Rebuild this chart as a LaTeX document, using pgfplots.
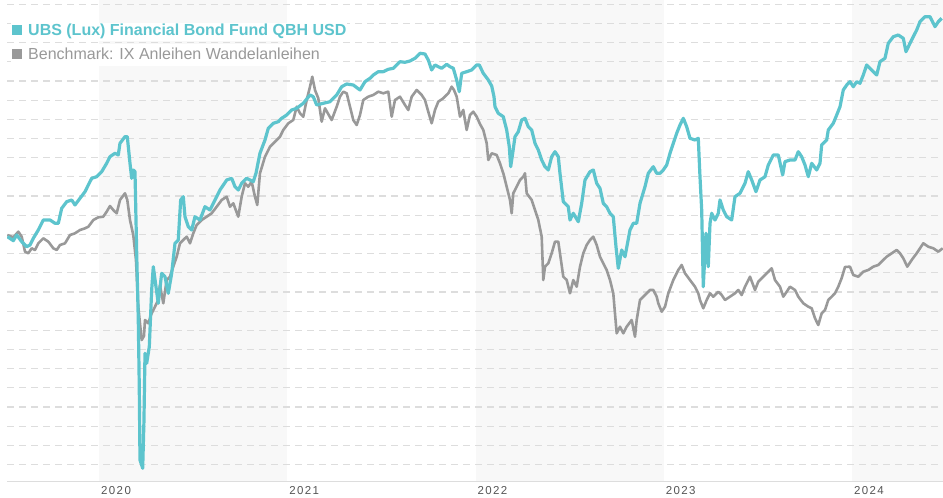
\documentclass[border=0pt]{standalone}
\usepackage{fontspec}
\setmainfont{Liberation Sans}
\newfontfamily\tickfont[LetterSpace=12]{Liberation Sans}
\usepackage{pgfplots}
\usepackage{pgfplotstable}
\pgfplotsset{compat=1.18}
\definecolor{fundcol}{HTML}{5DC4CD}
\definecolor{benchcol}{HTML}{999999}
\definecolor{gridcol}{HTML}{DDDDDD}
\definecolor{bandcol}{HTML}{F8F8F8}
\definecolor{tickcol}{HTML}{555555}

% px = horizontal reading, py = vertical reading (from top); converted to date / index below
\pgfplotstableread{
px py
7.3 236.7
13.3 240.7
16.7 235
21.7 241.7
26.7 246.7
30 245
33.3 238.3
38.3 230
43.3 220
50 220
55 223.3
58.3 223.3
61.7 208.3
66.7 201.7
71.7 200
75 205
80 198.3
85 191.7
88.3 185
91.7 178.3
96.7 176.7
101.7 171.7
106.7 163.3
110 156.7
115 153.3
118.3 155
120 143.3
125 136.7
127.3 136.7
130 163.3
131.7 178.3
133.3 170
135 171.7
136.7 253.3
138.3 320
139.3 386.7
140 460
142.7 468.3
144 420
145 353.3
146.7 363.3
149.3 346.7
151.7 290
153.3 266.7
156 286.7
158.3 303.3
161.7 273.3
165 276.7
168.3 293.3
171.7 273.3
175 243.3
178.3 240
180.7 200
183.3 196.7
185 216.7
188.3 226.7
191.7 230
195 216.7
200 220
205 206.7
210 210
215 200
220 190
226.7 180
231.7 178.3
235 186.7
238.3 190
241.7 183.3
246.7 178.3
250 180
253.3 181.7
256 173.3
260 153.3
265 140
268.3 128.3
273.3 123.3
278.3 121.7
281.7 118.3
286.7 115
291.7 110
296.7 108.3
303.3 103.3
310 95
313.3 96.7
316.7 105
323.3 103.3
330 101.7
336.7 95
341.7 86.7
346.7 84
353.3 85
360 90
365 81.7
370 78.3
373.3 75
378.3 71.7
383.3 71.7
388.3 69.3
393.3 68.3
400 61.7
405 62.3
410 61
415 58.3
420 53.3
425 54
428.3 60
431.7 70
435 65
438.3 66.7
441.7 68.3
446.7 64.3
450 66.7
453.3 68.3
456.7 80
459.3 91.7
461.7 73.3
466.7 71.7
471.7 70
476.7 65
479.3 65
483.3 73.3
488.3 80
491.7 86
494 96.7
495 106.7
498.3 113.3
503.3 116.7
506.7 130
509.3 146.7
510.7 166.7
512.7 153.3
515 136.7
518.3 131.7
521.7 120
525 118.3
528.3 126.7
531.7 130
535 143.3
538.3 150
541.7 160
545 166.7
548.3 170
551.7 156.7
555 151.7
558.3 156.7
560 173.3
563.3 201.7
568.3 206.7
570 220
573.3 213.3
578.3 221.7
581.7 203.3
585 180
590 171.7
593.3 170
596.7 183.3
600 188.3
603.3 203.3
606.7 206.7
610 213.3
613.3 216.7
616 246.7
618.3 268.3
621.7 250
625 256.7
630 230
633.3 223.3
636.7 223.3
640 203.3
645 186.7
648.3 173.3
653.3 166.7
656.7 173.3
660 173.3
663.3 170
666.7 165
670 153.3
673.3 143.3
676.7 133.3
680 125
683.3 118.3
686.7 126.7
690 138.3
695 140
698.3 138.3
700 176.7
701.7 210
703.3 286.7
706 233.3
708.3 266.7
710 223.3
711.7 213.3
715 220
718.3 213.3
720 200
723.3 210
726.7 216.7
731.7 220
735 196.7
740 193.3
745 183.3
748.3 171.7
751.7 180
756 191.7
760 180
765 176.7
768.3 165
773.3 155
778.3 155
782.7 175
785 161.7
790 160
795 160
798.3 151.7
801.7 156.7
805 165
808.3 176.7
811.7 163.3
816.7 170
820 163.3
821.7 145
826.7 140
828.3 130
833.3 123.3
836.7 115
840 106.7
843.3 90
846.7 85
850 81.7
853.3 86.7
856.7 81.7
860 83.3
863.3 75
866.7 65
870 68.3
873.3 71.7
876.7 75
880 61.7
885 58.3
888.3 43.3
893.3 36.7
898.3 35
903.3 38.3
906 51.7
910 43.3
913.3 36.7
916.7 30
920 21.7
925 16.7
930 16.7
935 26.7
938.3 21.7
941.7 18.3
}\fund

\pgfplotstableread{
px py
7.3 235
13.3 237.3
18.3 231.7
21.7 236.7
25 251.7
28.3 253.3
31.7 248.3
35 250
38.3 243.3
43.3 238.3
48.3 241.7
53.3 248.3
56.7 250
60 245
65 243.3
70 235
75 233.3
80 230
85 228.3
88.3 226.7
93.3 220
98.3 217.3
103.3 216.7
106.7 211.7
110 206
113.3 210
116.7 213.3
120 200
125 193.3
127.3 200
130 220
133.3 235
136 260
138.3 306.7
141.7 340
144 336
145 320
148.3 323.3
151.7 313.3
155 306.7
158.3 300
160 285
163.3 303.3
166.7 280
170 276.7
173.3 266.7
176.7 256.7
180 243.3
183.3 240
186.7 236.7
190 243.3
193.3 233.3
196.7 225
201.7 220
206.7 216.7
211.7 213.3
216.7 206.7
221.7 200
226.7 196.7
230 206.7
233.3 203.3
238.3 216.7
241.7 196.7
245 183.3
248.3 186.7
251.7 181.7
255 196.7
257.3 205
260 173.3
265 156.7
270 146.7
275 141.7
280 136.7
283.3 130
288.3 123.3
293.3 120
296.7 106.7
300 113.3
303.3 116.7
306.7 100
310 86.7
312.3 76.7
315 90
318.3 98.3
321.7 121.7
325 108.3
331.7 120
336.7 106.7
340 96.7
343.3 91.7
346.7 93.3
350 106.7
353.3 120
356.7 125
360 115
363.3 100
368.3 96.7
373.3 95
378.3 91.7
383.3 93.3
388.3 91.7
391.7 116.7
395 100
400 96.7
405 105
408.3 110
411.7 96.7
416.7 90
421.7 95
425 100
428.3 111.7
431.7 123.3
435 110
438.3 101.7
443.3 98.3
448.3 93.3
451.7 86.7
454 90
456.7 96.7
460 116.7
463.3 110
466.7 130
470 115
473.3 111.7
476.7 116.7
480 124
483.3 130
486.7 143.3
488.3 160
491.7 153.3
496.7 155
500 163.3
503.3 173.3
506.7 186.7
510 200
511.7 213.3
513.3 193.3
516.7 186.7
520 180
523.3 176.7
525 173.3
526.7 193.3
531.7 200
535 210
538.3 220
541.7 236.7
543.3 280
545 266.7
548.3 263.3
551.7 253.3
555 241.7
558.3 241.7
560 253.3
563.3 276.7
566.7 280
570 293.3
573.3 280
576.7 286.7
580 266.7
583.3 253.3
586.7 245
590 240
593.3 236.7
596.7 245
600 256.7
603.3 263.3
606.7 270
610 280
613.3 293.3
615 313.3
616.7 333.3
620 326.7
623.3 333.3
626.7 326.7
631.7 320
635 336.7
636.7 320
640 300
643.3 296.7
646.7 293.3
650 290
653.3 290
656.7 296.7
658.3 303.3
661.7 311.7
665 306.7
668.3 293.3
673.3 280
678.3 270
681.7 265
685 273.3
690 280
695 286.7
698.3 293.3
700 300
703.3 308.3
706.7 300
710 293.3
713.3 296.7
718.3 291.7
721.7 295
725 300
730 296.7
735 293.3
738.3 290
741.7 295
745 286.7
750 276.7
755 290
758.3 281.7
763.3 276.7
768.3 271.7
771.7 268.3
775 280
780 286.7
783.3 296.7
786.7 291.7
790 286.7
795 290
798.3 296.7
803.3 303.3
808.3 306.7
811.7 308.3
815 318.3
818.3 325
821.7 313.3
825 310
828.3 300
831.7 296.7
835 293.3
838.3 286.7
841.7 278
845 267
850 266.7
853.3 275
858.3 276.7
863.3 271.7
868.3 270
873.3 266.7
878.3 265
883.3 260
886.7 256.7
891.7 253.3
896.7 250
900 253.3
903.3 258.3
907.3 266.7
911.7 260
916.7 253.3
920 248.3
923.3 243.3
928.3 246.7
933.3 248.3
938.3 251.7
942.7 248.3
}\bench

\begin{document}
\begin{tikzpicture}
\begin{axis}[
  at={(7bp,16.3bp)}, anchor=south west,
  scale only axis, width=936bp, height=481.7bp,
  xmin=2019.5096, xmax=2024.483,
  ymin=0, ymax=481.7,
  set layers,
  separate axis lines,
  axis x line*=bottom, axis y line*=left,
  x axis line style={draw=gridcol, line width=1.6bp},
  y axis line style={draw=none},
  xtick={2020,2021,2022,2023,2024},
  xticklabels={2020,2021,2022,2023,2024},
  major tick length=0pt,
  xticklabel style={anchor=north west, inner sep=0pt, xshift=1.7bp, yshift=-4.5bp,
     font=\tickfont\fontsize{11.5bp}{13bp}\selectfont, text=tickcol},
  ytick={17.1,36.28,...,478},
  yticklabels={},
  ymajorgrids,
  grid style={draw=gridcol, line width=1.2bp, dash pattern=on 7bp off 5bp},
]
\begin{pgfonlayer}{axis background}
\fill[bandcol] (axis cs:2020,0) rectangle (axis cs:2021,481.7);
\fill[bandcol] (axis cs:2022,0) rectangle (axis cs:2023,481.7);
\fill[bandcol] (axis cs:2024,0) rectangle (axis cs:2024.483,481.7);
\end{pgfonlayer}
\addplot[benchcol, line width=2.6bp, line join=round]
  table[x expr={2020+(\thisrow{px}-99.3)/188.2}, y expr={481.7-\thisrow{py}}]{\bench};
\addplot[fundcol, line width=3.2bp, line join=round]
  table[x expr={2020+(\thisrow{px}-99.3)/188.2}, y expr={481.7-\thisrow{py}}]{\fund};
\end{axis}
\node[anchor=base west, inner xsep=1bp, inner ysep=1.5bp, fill=white, text=fundcol,
  font=\fontsize{16bp}{19bp}\selectfont\bfseries] at (10.5bp,462.3bp)
  {\rule[0.3bp]{10bp}{10bp}\hspace{6.5bp}UBS (Lux) Financial Bond Fund QBH USD};
\node[anchor=base west, inner xsep=1bp, inner ysep=1.5bp, fill=white, text=benchcol,
  font=\fontsize{16bp}{19bp}\selectfont] at (10.5bp,438.7bp)
  {\rule[0.3bp]{10bp}{10bp}\hspace{6.5bp}Benchmark: IX Anleihen Wandelanleihen\strut};
\pgfresetboundingbox
\path[use as bounding box] (0,0) rectangle (943bp,498bp);
\end{tikzpicture}
\end{document}
